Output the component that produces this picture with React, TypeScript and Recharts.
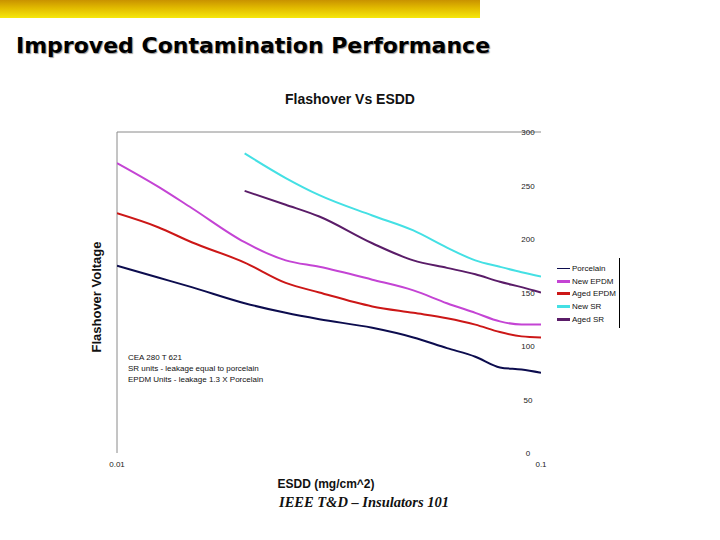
import { LineChart, Line, XAxis, YAxis, ReferenceLine, Legend } from "recharts";

// ESDD sample points (mg/cm^2), log-spaced x axis
const ESDD = [0.01, 0.0125, 0.015, 0.02, 0.025, 0.03, 0.04, 0.05, 0.06, 0.07, 0.08, 0.09, 0.1];

// flashover voltage per insulator type
const PORCELAIN = [175, 164, 155, 140, 131, 125, 117, 108, 98, 90, 80, 78, 75];
const NEW_EPDM = [271, 249, 229, 197, 180, 174, 162, 152, 140, 131, 123, 120, 120];
const AGED_EPDM = [224, 211, 197, 178, 159, 150, 137, 131, 126, 120, 113, 109, 108];
const NEW_SR = [null, null, null, 280, 257, 241, 222, 208, 192, 180, 174, 169, 165];
const AGED_SR = [null, null, null, 245, 232, 221, 196, 180, 173, 167, 160, 155, 150];

const Y_TICKS = [0, 50, 100, 150, 200, 250, 300];
const X_TICKS = [0.01, 0.1];

const NOTES = [
  "CEA 280 T 621",
  "SR units - leakage equal to porcelain",
  "EPDM Units - leakage 1.3 X Porcelain",
];

const SERIES = [
  { key: "porcelain", name: "Porcelain", color: "#0c0c4e", values: PORCELAIN, swatch: 1 },
  { key: "newEpdm", name: "New EPDM", color: "#c444d4", values: NEW_EPDM, swatch: 3 },
  { key: "agedEpdm", name: "Aged EPDM", color: "#cc1717", values: AGED_EPDM, swatch: 3 },
  { key: "newSr", name: "New SR", color: "#44e0e4", values: NEW_SR, swatch: 3 },
  { key: "agedSr", name: "Aged SR", color: "#5a1c68", values: AGED_SR, swatch: 3 },
];

const data = ESDD.map((esdd, i) => {
  const row: Record<string, number | null> = { esdd };
  SERIES.forEach((s) => {
    row[s.key] = s.values[i];
  });
  return row;
});

const ARIAL = "'Liberation Sans', Arial, sans-serif";

function XTick(props: any) {
  const { x, payload } = props;
  return (
    <text x={x} y={467} textAnchor="middle" fontSize={8} fontFamily={ARIAL} fill="#222">
      {String(payload.value)}
    </text>
  );
}

function YTick(props: any) {
  const { y, payload } = props;
  return (
    <text x={528} y={y + 3} textAnchor="middle" fontSize={8} fontFamily={ARIAL} fill="#222">
      {payload.value}
    </text>
  );
}

function LegendBox() {
  return (
    <div
      style={{
        borderRight: "1px solid #000",
        width: 62,
        padding: "4px 0 2px 0",
        fontFamily: ARIAL,
        fontSize: 8,
        color: "#111",
      }}
    >
      {SERIES.map((s) => (
        <div key={s.key} style={{ display: "flex", alignItems: "center", height: 12.8 }}>
          <span
            style={{
              display: "inline-block",
              width: 13,
              height: s.swatch,
              background: s.color,
              marginRight: 2,
            }}
          />
          <span>{s.name}</span>
        </div>
      ))}
    </div>
  );
}

export default function App() {
  return (
    <div
      style={{
        position: "absolute",
        left: 0,
        top: 0,
        width: 720,
        height: 540,
        background: "#fff",
        overflow: "hidden",
      }}
    >
      <div
        style={{
          position: "absolute",
          left: 0,
          top: 0,
          width: 480,
          height: 18,
          background: "linear-gradient(to bottom, #c99200 0%, #e2bb00 45%, #f6e80c 100%)",
        }}
      />
      <div
        style={{
          position: "absolute",
          left: 16,
          top: 35,
          fontFamily: "'DejaVu Sans', Verdana, sans-serif",
          fontWeight: "bold",
          fontSize: 22,
          lineHeight: "22px",
          color: "#000",
          textShadow: "1px 1px 1px #9a9a9a",
          whiteSpace: "nowrap",
        }}
      >
        Improved Contamination Performance
      </div>

      <LineChart
        width={720}
        height={540}
        data={data}
        margin={{ top: 132, right: 159, bottom: 67, left: 117 }}
      >
        <XAxis
          dataKey="esdd"
          type="number"
          scale="log"
          domain={[0.01, 0.1]}
          ticks={X_TICKS}
          allowDataOverflow
          axisLine={false}
          tickLine={false}
          height={20}
          tick={XTick}
        />
        <YAxis
          orientation="right"
          type="number"
          domain={[0, 300]}
          ticks={Y_TICKS}
          axisLine={false}
          tickLine={false}
          width={20}
          tick={YTick}
        />
        <ReferenceLine y={300} stroke="#8a8a8a" strokeWidth={1} />
        <ReferenceLine x={0.01} stroke="#8a8a8a" strokeWidth={1} />
        {SERIES.map((s) => (
          <Line
            key={s.key}
            dataKey={s.key}
            name={s.name}
            type="monotone"
            stroke={s.color}
            strokeWidth={2}
            dot={false}
            activeDot={false}
            isAnimationActive={false}
          />
        ))}
        <Legend
          layout="vertical"
          align="center"
          verticalAlign="middle"
          wrapperStyle={{ left: 557, top: 258, width: 63 }}
          content={() => <LegendBox />}
        />
      </LineChart>

      <div
        style={{
          position: "absolute",
          left: 0,
          width: 700,
          top: 91,
          textAlign: "center",
          fontFamily: ARIAL,
          fontWeight: "bold",
          fontSize: 14,
          color: "#111",
        }}
      >
        Flashover Vs ESDD
      </div>
      <div
        style={{
          position: "absolute",
          left: 96,
          top: 297,
          transform: "translate(-50%, -50%) rotate(-90deg)",
          fontFamily: ARIAL,
          fontWeight: "bold",
          fontSize: 13,
          color: "#111",
          whiteSpace: "nowrap",
        }}
      >
        Flashover Voltage
      </div>
      <div
        style={{
          position: "absolute",
          left: 128,
          top: 352,
          fontFamily: ARIAL,
          fontSize: 8,
          lineHeight: "11px",
          color: "#111",
        }}
      >
        {NOTES.map((n) => (
          <div key={n}>{n}</div>
        ))}
      </div>
      <div
        style={{
          position: "absolute",
          left: 226,
          width: 200,
          top: 477,
          textAlign: "center",
          fontFamily: ARIAL,
          fontWeight: "bold",
          fontSize: 12,
          color: "#111",
        }}
      >
        ESDD (mg/cm^2)
      </div>
      <div
        style={{
          position: "absolute",
          left: 214,
          width: 300,
          top: 494,
          textAlign: "center",
          fontFamily: "'Liberation Serif', 'Times New Roman', serif",
          fontStyle: "italic",
          fontWeight: "bold",
          fontSize: 14.5,
          color: "#111",
        }}
      >
        IEEE T&amp;D – Insulators 101
      </div>
    </div>
  );
}
